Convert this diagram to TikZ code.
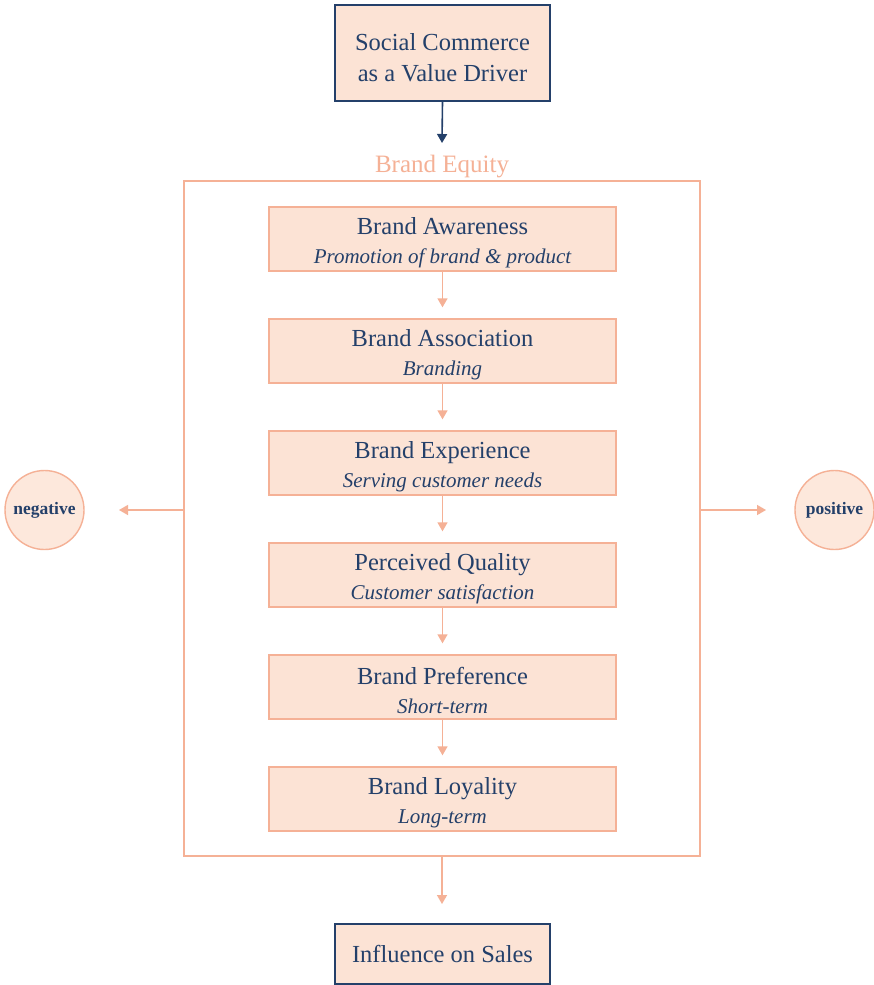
\documentclass[tikz,border=0pt]{standalone}
\usepackage{fontspec}
\setmainfont{Liberation Serif}
\usetikzlibrary{arrows.meta}
\definecolor{navy}{HTML}{24406A}
\definecolor{salmon}{HTML}{F5B196}
\definecolor{peach}{HTML}{FCE3D5}
\definecolor{circfill}{HTML}{FDE8DC}
% a strut on the first line lowers the two-line text a little inside its box
\newcommand{\stagetitle}[1]{{\fontsize{24.5}{29}\selectfont\rule{0pt}{25pt}#1}}
\newcommand{\stagesub}[1]{{\fontsize{21}{29}\selectfont\itshape #1}}
\begin{document}
\begin{tikzpicture}[x=1pt,y=-1pt,
  outerbox/.style={draw=navy, line width=1.6pt, fill=peach, text=navy,
    minimum width=215pt, align=center, inner sep=0pt,
    font=\fontsize{24.5}{31}\selectfont},
  stagebox/.style={draw=salmon, line width=1.4pt, fill=peach, text=navy,
    minimum width=347pt, minimum height=64pt, align=center, inner sep=0pt,
    font=\fontsize{21}{29}\selectfont},
  pole/.style={circle, draw=salmon, line width=1.4pt, fill=circfill, text=navy,
    minimum size=79pt, inner sep=0pt, font=\fontsize{17.5}{20}\selectfont\bfseries},
  salarrow/.style={draw=salmon, line width=1.4pt, -{Triangle[length=9pt,width=10pt]}},
  navyarrow/.style={draw=navy, line width=1.6pt, -{Triangle[length=9pt,width=10pt]}}
]
\useasboundingbox (0,0) rectangle (873,985);
\fill[white] (0,0) rectangle (873,985);

% top driver box
\node[outerbox, minimum height=96pt] (driver) at (442.5,53) {\rule{0pt}{25.5pt}Social Commerce\\as a Value Driver};

% brand equity frame
\node[text=salmon, font=\fontsize{25}{30}\selectfont] (eqlabel) at (442,167) {Brand Equity};
\node[draw=salmon, line width=1.4pt, minimum width=516pt, minimum height=675pt, inner sep=0pt] (frame) at (442,518.5) {};
\coordinate (framein) at (442,143);
\coordinate (frameout) at (442,904);

% stages
\node[stagebox] (s1) at (442.5,239) {\stagetitle{Brand Awareness}\\\stagesub{Promotion of brand \& product}};
\node[stagebox] (s2) at (442.5,351) {\stagetitle{Brand Association}\\\stagesub{Branding}};
\node[stagebox] (s3) at (442.5,463) {\stagetitle{Brand Experience}\\\stagesub{Serving customer needs}};
\node[stagebox] (s4) at (442.5,575) {\stagetitle{Perceived Quality}\\\stagesub{Customer satisfaction}};
\node[stagebox] (s5) at (442.5,687) {\stagetitle{Brand Preference}\\\stagesub{Short-term}};
\node[stagebox] (s6) at (442.5,799) {\stagetitle{Brand Loyality}\\\stagesub{Long-term}};

\foreach \a/\b in {s1/s2,s2/s3,s3/s4,s4/s5,s5/s6}
  \draw[salarrow] (\a.south) -- ([yshift=11pt]\b.north);

% outcome poles
\node[pole] (neg) at (44.5,510) {negative};
\node[pole] (pos) at (834.5,510) {positive};
\coordinate (negtip) at (119,510);
\coordinate (postip) at (766,510);
\draw[salarrow] (frame.west |- neg) -- (negtip);
\draw[salarrow] (frame.east |- pos) -- (postip);

% sales box
\node[outerbox, minimum height=60pt] (sales) at (442.5,954) {Influence on Sales};

\draw[navyarrow] (driver.south) -- (framein);
\draw[salarrow] (frame.south) -- (frameout);
\end{tikzpicture}
\end{document}
